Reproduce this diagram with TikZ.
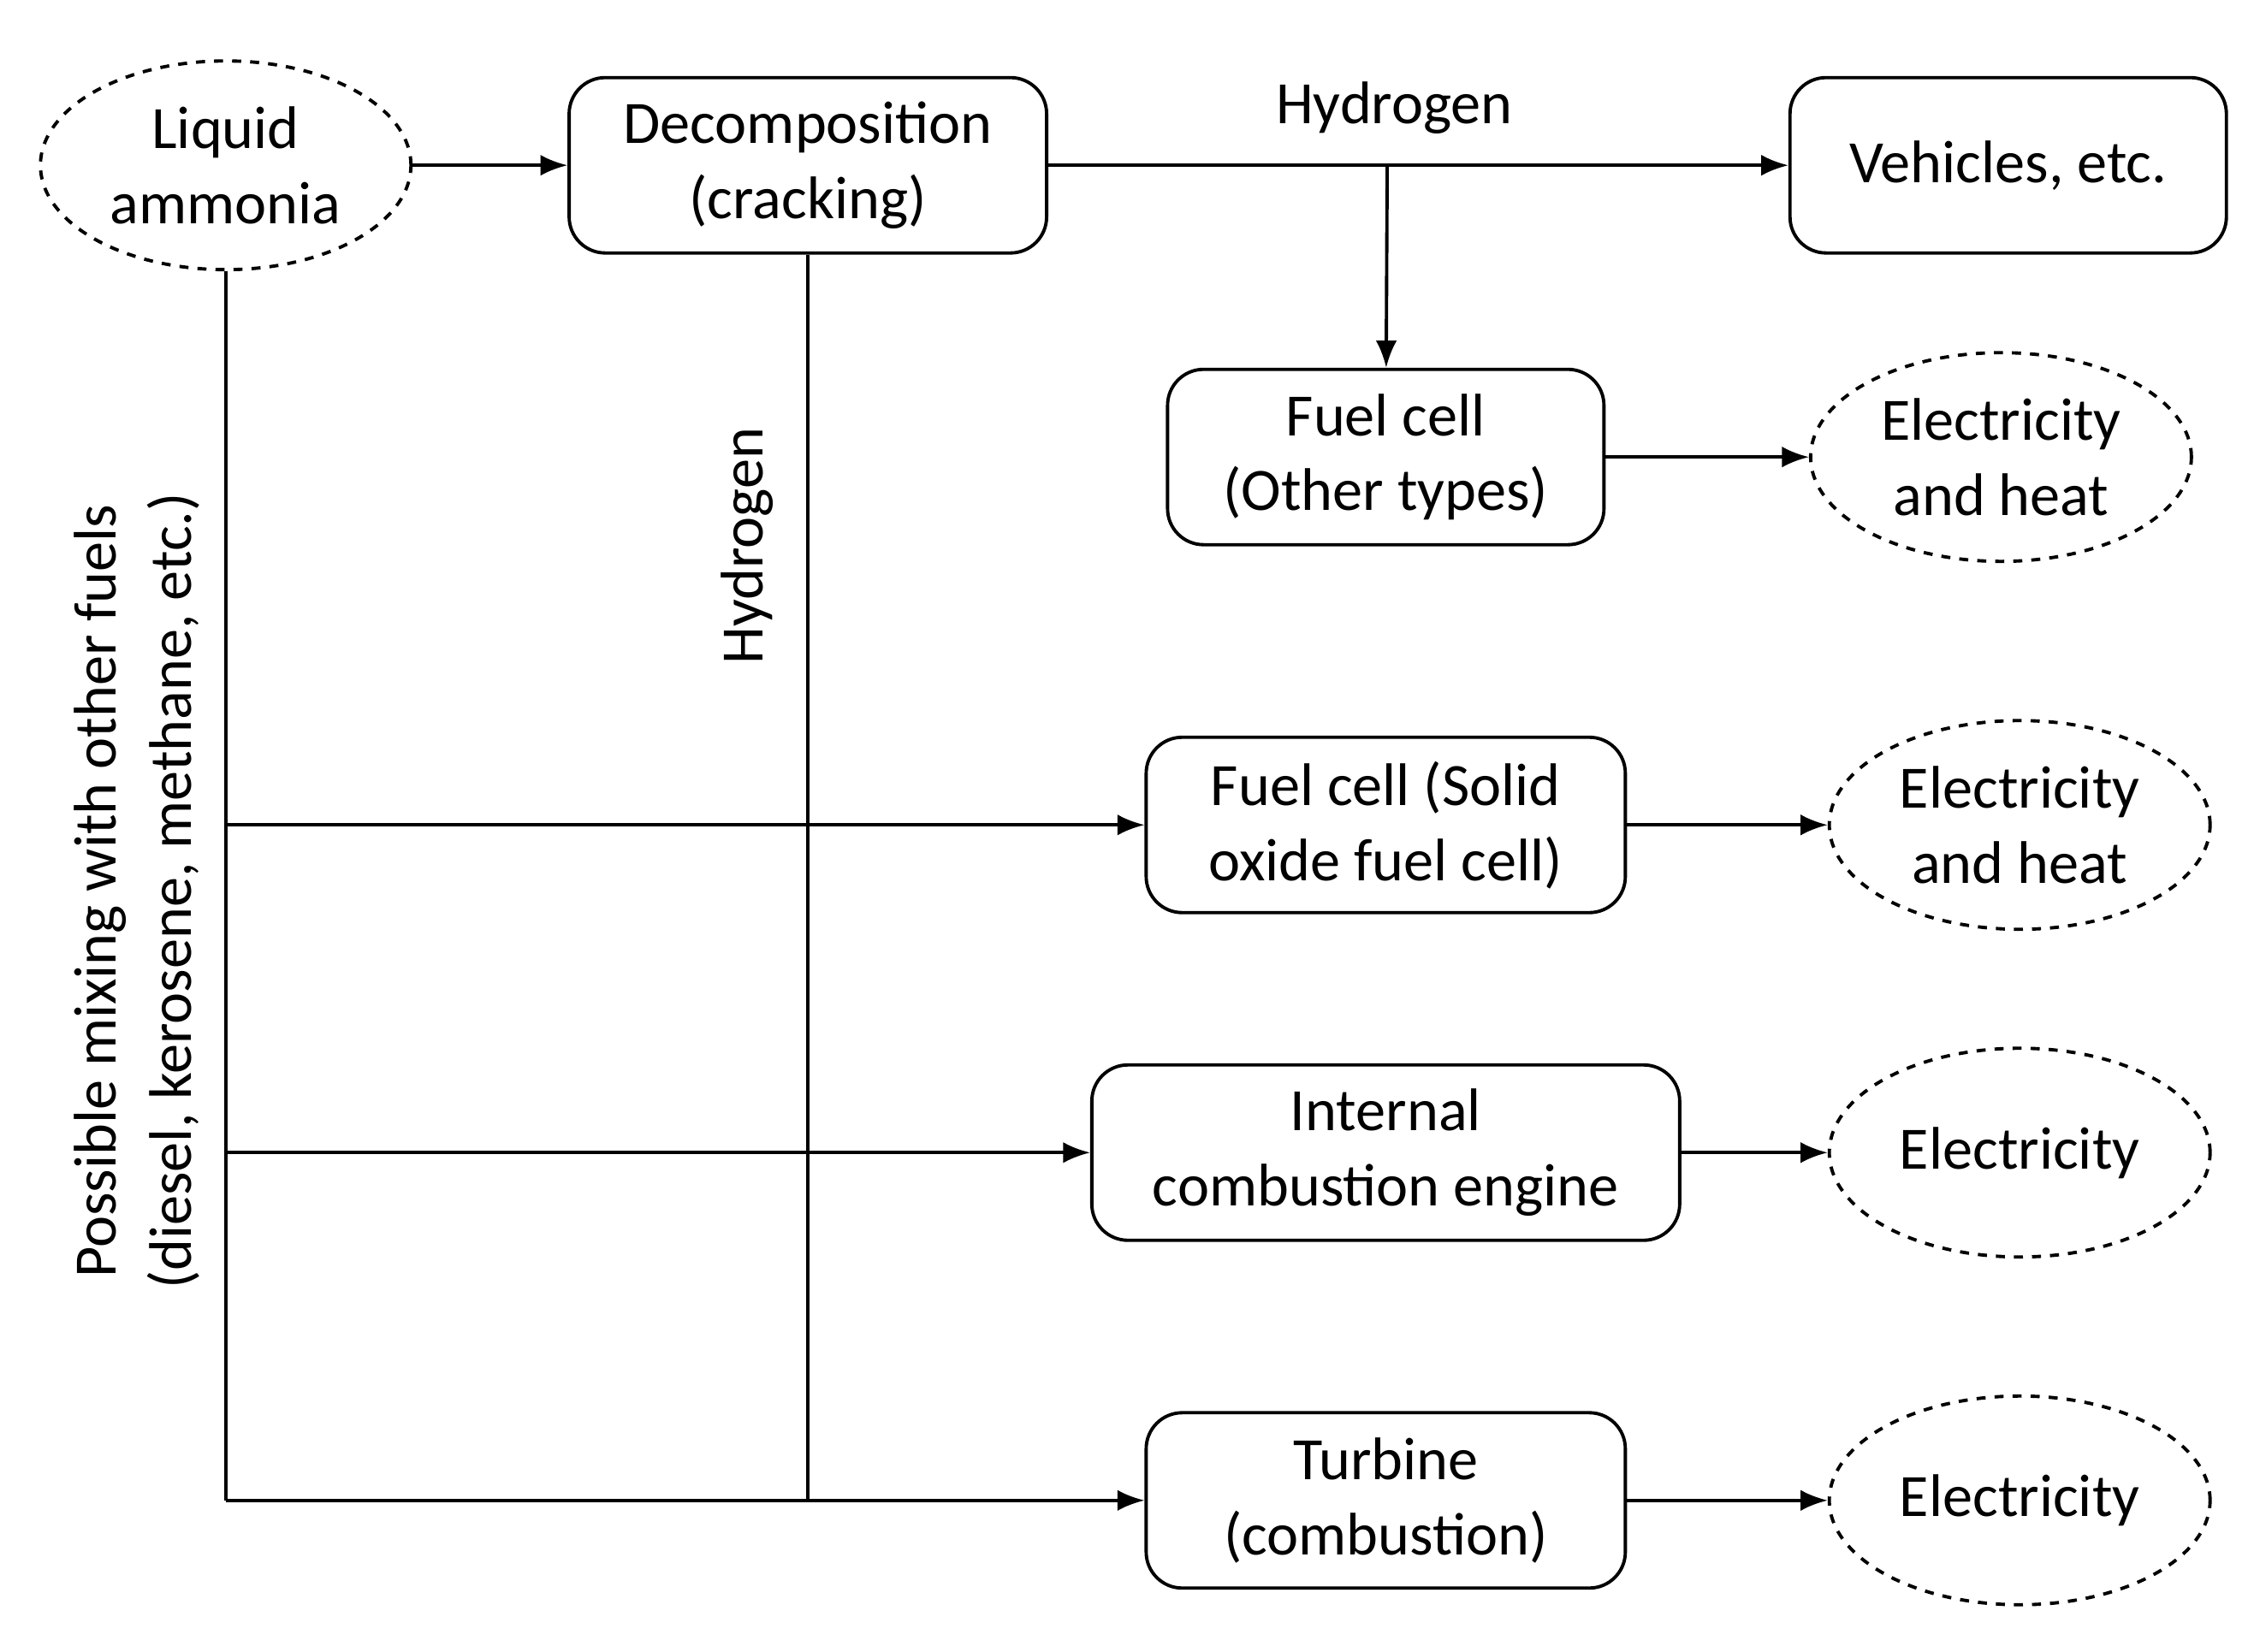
\documentclass[tikz,border=0pt]{standalone}
\usepackage{fontspec}
\setmainfont{Carlito}
\usetikzlibrary{shapes.geometric,arrows.meta}
\begin{document}
\begin{tikzpicture}
[x=0.0168cm,y=-0.0168cm,line width=1.1pt,
 font=\fontsize{20}{25}\selectfont,
 box/.style={draw,rounded corners=12pt,align=center,minimum height=2.05cm},
 product/.style={draw,dashed,ellipse,align=center,minimum width=4.45cm,minimum height=2.44cm,inner sep=0pt},
 flow/.style={-{Latex[length=9pt,width=7pt]}}]
\useasboundingbox (0,0) rectangle (1568,1149);

% nodes
\node (nh3) [product,minimum width=4.33cm] at (157,115) {Liquid\\ammonia};
\node (crack) [box,minimum width=5.58cm] at (562,115) {Decomposition\\(cracking)};
\node (veh) [box,minimum width=5.1cm] at (1397,115) {Vehicles, etc.};
\node (fco) [box,minimum width=5.1cm] at (964,318) {Fuel cell\\(Other types)};
\node (e1) [product] at (1392,318) {Electricity\\and heat};
\node (sofc) [box,minimum width=5.6cm] at (964,574) {Fuel cell (Solid\\oxide fuel cell)};
\node (e2) [product] at (1405,574) {Electricity\\and heat};
\node (ice) [box,minimum width=6.87cm] at (964,802) {Internal\\combustion engine};
\node (e3) [product] at (1405,802) {Electricity};
\node (turb) [box,minimum width=5.6cm] at (964,1044) {Turbine\\(combustion)};
\node (e4) [product] at (1405,1044) {Electricity};

\coordinate (h2) at (965,115);
\coordinate (m1) at (157,574);
\coordinate (m2) at (157,802);
\coordinate (m3) at (157,1044);
\coordinate (d3) at (562,1044);

% connectors
\draw [flow] (nh3) -- (crack);
\draw [flow] (crack) -- (veh);
\draw [flow] (h2) -- (fco);
\draw [flow] (fco) -- (e1);
\draw [flow] (sofc) -- (e2);
\draw [flow] (ice) -- (e3);
\draw [flow] (turb) -- (e4);
\draw (nh3) -- (m3);
\draw (crack) -- (d3);
\draw [flow] (m1) -- (sofc);
\draw [flow] (m2) -- (ice);
\draw [flow] (m3) -- (turb);

% labels
\node (lh2a) at (970,75) {Hydrogen};
\node (lh2b) [rotate=90] at (520,380) {Hydrogen};
\node (lmix) [rotate=90,align=center] at (95,620)
  {Possible mixing with other fuels\\(diesel, kerosene, methane, etc.)};
\end{tikzpicture}
\end{document}
